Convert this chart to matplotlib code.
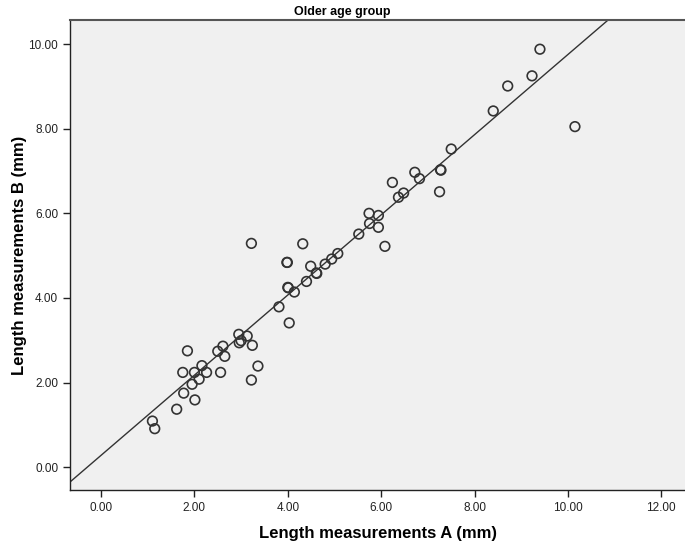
import numpy as np
import matplotlib
matplotlib.use('Agg')
from matplotlib import pyplot as plt

length_a = [1.10, 1.15, 1.62, 1.77, 2.01, 1.75, 1.85, 1.95, 2.00, 2.10,
            2.16, 2.26, 2.56, 2.50, 2.61, 2.65, 2.95, 2.96, 3.00, 3.13,
            3.24, 3.36, 3.22, 3.22, 4.32, 3.98, 3.99, 4.49, 4.61, 4.62,
            4.40, 4.00, 4.01, 4.14, 3.81, 4.03, 4.80, 4.94, 5.07, 5.52,
            6.08, 5.74, 5.94, 5.75, 5.94, 6.24, 6.37, 6.48, 6.72, 6.82,
            7.27, 7.28, 7.25, 7.50, 8.40, 8.71, 9.23, 9.40, 10.15]
length_b = [1.09, 0.91, 1.37, 1.75, 1.59, 2.24, 2.75, 1.96, 2.24, 2.08,
            2.40, 2.24, 2.24, 2.74, 2.86, 2.62, 3.14, 2.94, 2.99, 3.10,
            2.88, 2.39, 2.06, 5.29, 5.28, 4.84, 4.84, 4.75, 4.59, 4.58,
            4.39, 4.25, 4.24, 4.14, 3.79, 3.41, 4.80, 4.92, 5.05, 5.51,
            5.22, 6.00, 5.95, 5.76, 5.67, 6.73, 6.38, 6.48, 6.97, 6.82,
            7.03, 7.02, 6.51, 7.52, 8.42, 9.01, 9.25, 9.88, 8.05]

# fit line at total
fit_intercept = 0.28
fit_slope = 0.9475

x_ticks = [0, 2, 4, 6, 8, 10, 12]
y_ticks = [0, 2, 4, 6, 8, 10]

plt.rcParams['font.family'] = ['Liberation Sans', 'DejaVu Sans']

fig = plt.figure(figsize=(6.85, 5.48), dpi=100)
ax = fig.add_axes([0.1022, 0.1058, 0.898, 0.8577])
ax.set_facecolor('#f0f0f0')

xlim = (-0.665, 12.51)
ylim = (-0.54, 10.57)

xs = np.array(xlim)
ax.plot(xs, fit_intercept + fit_slope * xs, color='#333333', linewidth=1.0, zorder=2)

ax.scatter(length_a, length_b, s=48, facecolors='none', edgecolors='#333333',
           linewidths=1.2, zorder=3)

ax.set_xlim(xlim)
ax.set_ylim(ylim)
ax.set_xticks(x_ticks)
ax.set_yticks(y_ticks)
ax.set_xticklabels(['%.2f' % v for v in x_ticks])
ax.set_yticklabels(['%.2f' % v for v in y_ticks])
ax.tick_params(direction='out', length=5, width=1, labelsize=8.5, colors='#222222')

for side in ['left', 'bottom']:
    ax.spines[side].set_color('#222222')
    ax.spines[side].set_linewidth(1.0)
ax.spines['top'].set_color('#555555')
ax.spines['top'].set_linewidth(1.5)
ax.spines['right'].set_visible(False)

ax.set_xlabel('Length measurements A (mm)', fontsize=12, fontweight='bold', labelpad=9)
ax.set_ylabel('Length measurements B (mm)', fontsize=12, fontweight='bold', labelpad=1)
fig.text(0.5, 1 - 12 / 548, 'Older age group', fontsize=9, fontweight='bold',
         ha='center', va='center')

plt.savefig('out.png', dpi=100)
